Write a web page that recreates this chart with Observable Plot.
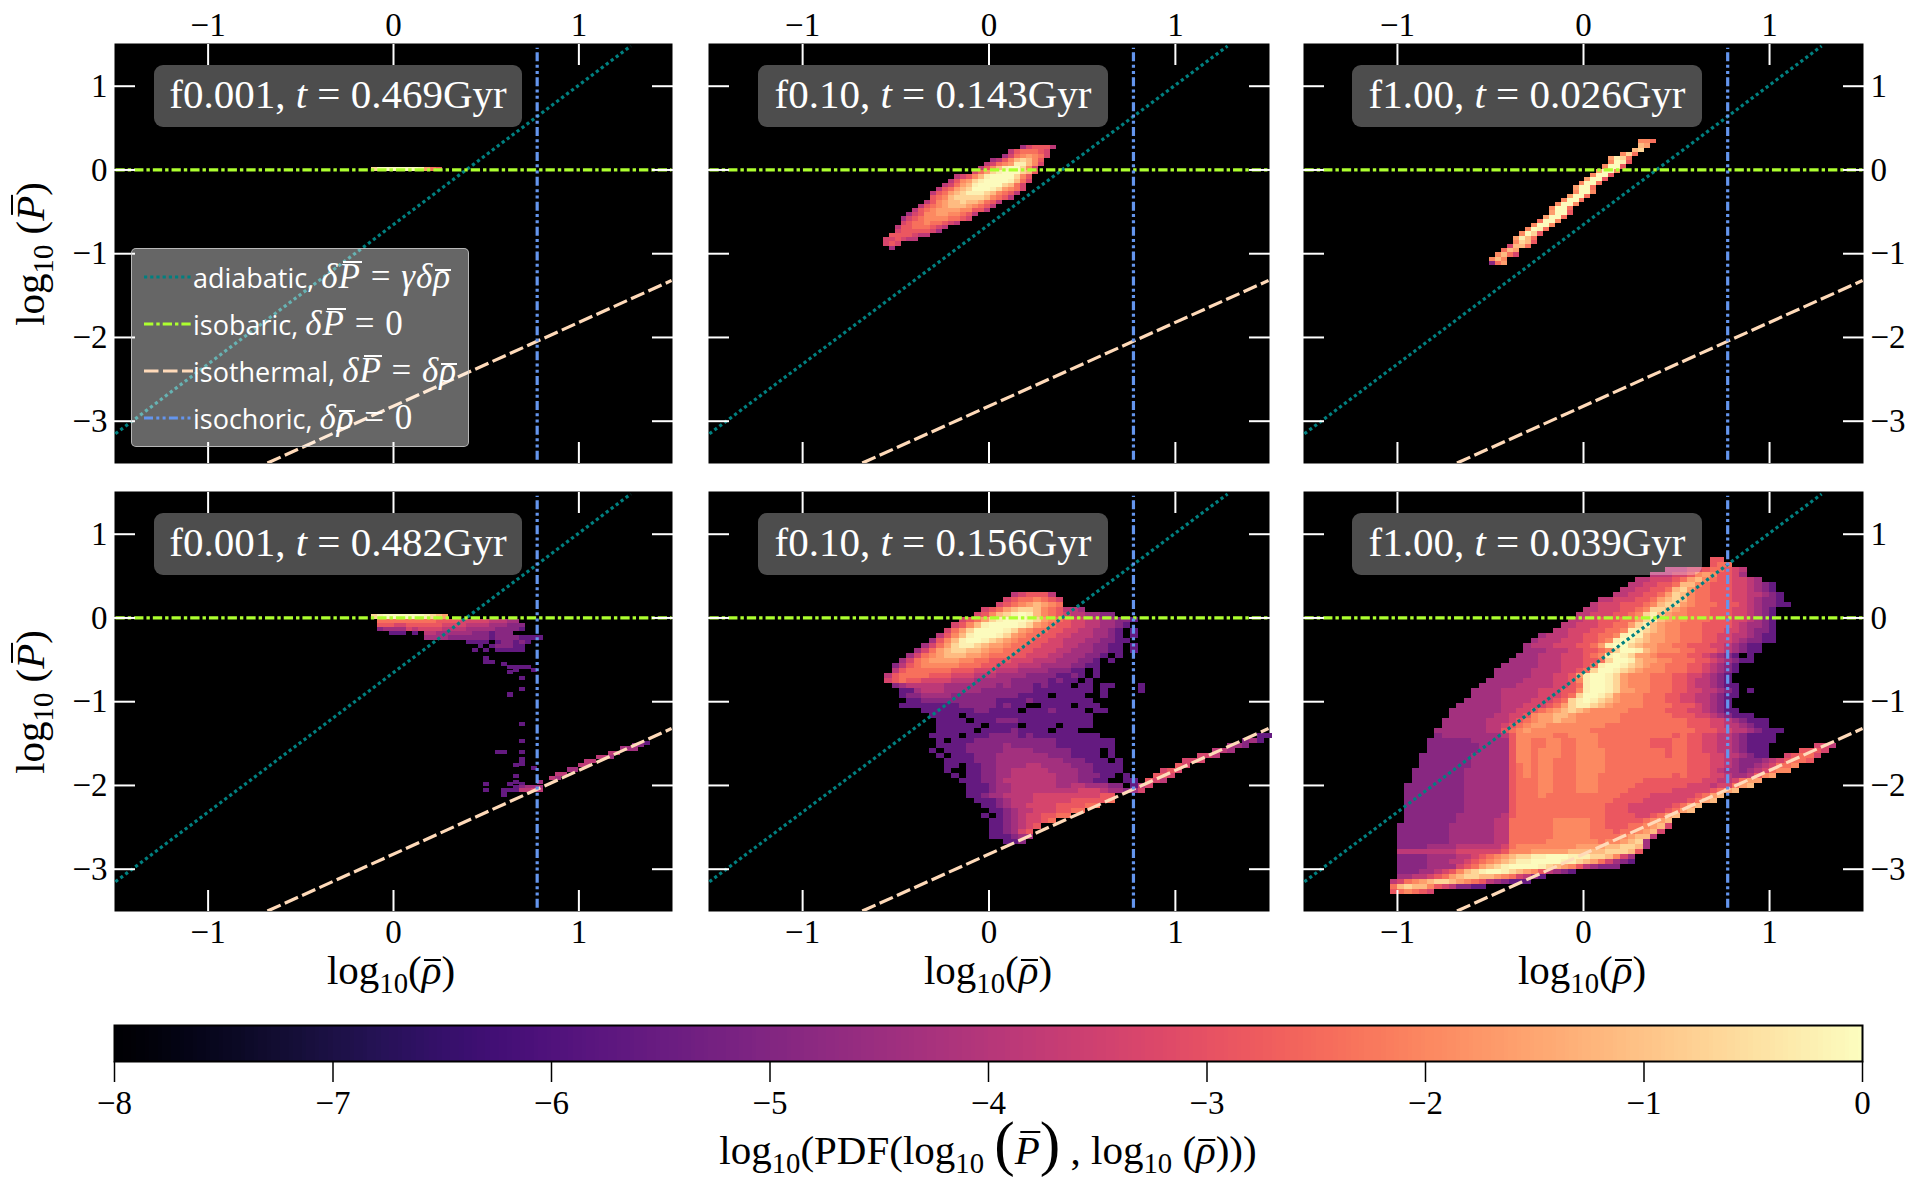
<!DOCTYPE html>
<html lang="en">
<head>
<meta charset="utf-8">
<title>Pressure-density phase diagrams</title>
<script src="https://cdn.jsdelivr.net/npm/d3@7"></script>
<script src="https://cdn.jsdelivr.net/npm/@observablehq/plot@0.6"></script>
<style>
  body { margin: 0; background: white; }
  #page { position: relative; width: 1915px; height: 1184px; overflow: hidden; font-family: 'Liberation Serif', serif; color: black; }
  #page svg { position: absolute; }
  .tag { position: absolute; height: 62px; line-height: 58px; text-align: center; white-space: nowrap; color: white; font-size: 41px;
         background: rgba(255,255,255,0.3); border-radius: 9px; }
  .lab { position: absolute; font-size: 41px; white-space: nowrap; transform: translate(-50%,-50%); }
  .lab.rot { transform: translate(-50%,-50%) rotate(-90deg); }
  sub { font-size: 70%; line-height: 0; }
  big { font-size: 150%; line-height: 0; font-weight: 100; }
  .bp, .br { position: relative; display: inline-block; }
  .bp::after, .br::after { content: ""; position: absolute; height: .045em; background: currentColor; }
  .bp::after { left: .14em; right: -.02em; top: .13em; }
  .br::after { left: .06em; right: 0; top: .32em; }
  #legend { position: absolute; left: 131px; top: 248px; width: 336px; height: 197px; background: rgba(255,255,255,0.4);
            border: 1.5px solid rgba(204,204,204,0.8); border-radius: 5px; }
  .key { position: absolute; left: 61px; white-space: nowrap; color: white; font-family: 'Open Sans', sans-serif; font-size: 27px; line-height: 30px; }
  .key span.m { font-family: 'Liberation Serif', serif; font-size: 35px; letter-spacing: 1px; }
  .key .bp::after { top: -.02em; }
  .key .br::after { top: .2em; }
</style>
</head>
<body>
<div id="page"></div>
<script>
// levels of log10(PDF), one character per histogram bin
const levelChars = "123456789abcd";
const levelValues = [-5.6, -4.9, -4.35, -3.85, -3.35, -2.85, -2.4, -2, -1.6, -1.15, -0.7, -0.25, -0.05];

const xTicks = [-1, 0, 1];
const yTicks = [-3, -2, -1, 0, 1];
const barTicks = [-8, -7, -6, -5, -4, -3, -2, -1, 0];

// reference lines, end points
const adiabaticX = [-1.5, 1.28], adiabaticY = [-3.15, 1.48];
const isobaricX = [-1.5, 1.5], isobaricY = [0, 0];
const isothermalX = [-0.68, 1.5], isothermalY = [-3.5, -1.32];
const isochoricX = [0.775, 0.775], isochoricY = [-3.46, 1.46];

const panelTags = [
  ["f0.001, ", "0.469Gyr"], ["f0.10, ", "0.143Gyr"], ["f1.00, ", "0.026Gyr"],
  ["f0.001, ", "0.482Gyr"], ["f0.10, ", "0.156Gyr"], ["f1.00, ", "0.039Gyr"]
];

// histogram runs: [top of row in log10 P, first column, levels]; "." is an empty bin
const panel1Runs = [[0.03, 30, "bdddddddc976"]];

const panel2Runs = [
  [.29,39,"356664"],[.24,37,"4677765"],[.19,36,"35789875"],[.14,34,"3468aba86"],[.09,33,"45789cca85"],
  [.04,32,"468acddb85"],[-.01,31,"579bcdddba6"],[-.06,28,"4568acddddb86"],[-.11,27,"4689bcddddca75"],
  [-.16,26,"4579acddddba75"],[-.21,25,"4679abdddcb9875"],[-.26,24,"4679abcccba8764"],[-.31,24,"678abbbbba8764"],
  [-.36,23,"4689aabaa9764"],[-.41,22,"46789aaa98764"],[-.46,21,"4678999988664"],[-.51,20,"356889988764"],
  [-.56,19,"356788887765"],[-.61,19,"5677877654"],[-.66,18,"466777654"],[-.71,18,"56666653"],
  [-.76,17,"6666544"],[-.81,16,"556544"],[-.86,16,"565"],[-.91,17,"3"]
];

const panel3Runs = [
  [.36,43,"887"],[.31,43,"a9"],[.26,42,"ab"],[.21,40,"8b7"],[.16,38,"9cb7"],[.11,38,"8dc6"],[.06,37,"8dd6"],
  [.01,36,"9dd8"],[-.04,35,"8dd6"],[-.09,34,"9dd6"],[-.14,33,"8dd7"],[-.19,32,"9dd7"],[-.24,32,"8dd8"],
  [-.29,31,"9dd7"],[-.34,30,"8dd7"],[-.39,29,"8dd8"],[-.44,28,"8dd7"],[-.49,28,"9dd6"],[-.54,27,"9dd7"],
  [-.59,26,"7dd8"],[-.64,25,"8dd8"],[-.69,24,"8dc7"],[-.74,23,"8db6"],[-.79,22,"9ca7"],[-.84,22,"8ba6"],
  [-.89,21,"5aa7"],[-.94,20,"7a9"],[-.99,19,"8a75"],[-1.04,18,"8a8"],[-1.09,18,"279"]
];

const panel4Runs = [
  [.036,30,"bcdddddddcba9"],[-.014,31,"777777777766665555544433"],[-.064,31,"6665566666655554444333222"],
  [-.114,31,"2333354555544443333322221"],[-.164,33,"111"],[-.164,37,"1"],[-.164,39,"443333332221222"],
  [-.214,39,"33332222222122221111"],[-.264,46,"1111.1"],[-.264,52,"22121"],[-.314,48,"1"],[-.314,50,"1"],[-.314,51,"22211"],
  [-.364,47,"1"],[-.364,49,"1"],[-.364,51,"1111"],[-.364,55,"1"],[-.46,49,"1"],[-.51,49,"11"],[-.533,52,"1"],
  [-.565,53,"1111"],[-.6,54,"1"],[-.6,57,"1"],[-.63,53,"1"],[-.696,55,"1"],[-.827,55,"1"],[-.895,53,"1"],
  [-1.25,55,"1"],[-1.45,55,"1"],[-1.58,51,"11"],[-1.58,55,"1"],[-1.67,55,"1"],[-1.72,55,"1"],[-1.74,54,"1"],
  [-1.77,57,"1"],[-1.865,54,"1"],[-1.94,54,"1"],[-1.965,49,"1"],[-1.965,53,"1"],[-1.965,55,"1"],
  [-2,54,"12333"],[-2.04,49,"1"],[-2.04,52,"1114454"],[-2.09,52,"1"],
  [-1.47,76,"1"],[-1.5,74,"22"],[-1.54,72,"333"],[-1.59,70,"44"],[-1.64,68,"443"],[-1.69,66,"44"],
  [-1.74,65,"44"],[-1.79,63,"33"],[-1.84,61,"44"],[-1.89,60,"43"],[-1.94,58,"3"]
];

const panel5Runs = [
  [.3,30,"456664"],[.24,29,"56778765"],[.18,28,"56789a987"],[.12,26,"5679abba876 443"],
  [.06,25,"568abcdca87654433 22"],[0,23,"5679bcdddcb98765544 33221"],[-.06,22,"568acddddcb987665544 3321"],
  [-.12,21,"579bddddcb98776655 44 33 21.1"],[-.18,20,"468acdddcb987766 55 444 33 21.1"],
  [-.24,19,"368acddcba987766 55 444 33 2211."],[-.3,18,"3579bccba9987766 555 44 33 2211.1"],
  [-.36,17,"3579abbaa98877 66 555 44 333 2211.1"],[-.42,16,"35789aaa99877766 555 44 333 221.1"],
  [-.48,15,"35789999887766 6 555 444 333 221.1"],[-.54,14,"2467888887776655 5 444 3333 2211."],
  [-.6,14,"467777776665 55 444 3333 222 11.1"],[-.66,13,"46777766 6555 444 3333 2222 11 2 1.1"],
  [-.72,13,"56766 5555 444 33333 22222 1 2 11.1"],[-.78,14,"234444 4333333 323 222 1 2 111.11.11...1"],
  [-.84,15,"11344 43333322222221 1111111.1....1"],[-.9,15,"1223333222222222 1111.1111..1"],
  [-.96,16,"112222222222 1111 2 11111111"],[-1.02,15,"11111111 22222 1 2 11..1111.111"],
  [-1.08,18,"1111111 22 1111.111 2 1111.11"],[-1.14,19,"1111.1111111111111111 1"],
  [-1.2,20,"1111.111 222 1111111111"],[-1.26,20,"111111.1111.1111.11 1 1"],[-1.32,19,".11111.1111 2 1111.111"],
  [-1.38,19,"1111.111 2222 1 2 111111111"],[-1.44,20,"1.111 22222222222 11111111"],
  [-1.5,20,"1111 22222 3 222222 11111111"],[-1.56,19,"1.111 22222 3333 22222 1111.1"],
  [-1.62,20,"1.111 222 3333333 222 1111.1"],[-1.68,20,".1111 222 333333333 222 111.1"],
  [-1.74,21,"11.11 22 3333 44 3333 222 1111"],[-1.8,21,"1..11 22 33 44444 3333 22 1111"],
  [-1.86,22,"1.11 22 33 444444 333 222 11.1"],[-1.92,23,"111 22 3 4444444 333 22 11..11"],
  [-1.98,23,".111 2 33 444444 33 44 333 22.14"],[-2.04,24,"111 2 33 444444444 555 4 33 2 3 5"],
  [-2.1,24,"11 2 33 4444 555555555 66"],[-2.16,25,"111 2 3 444 55555 66666 7"],[-2.22,26,"11 2 3 44 5555 6666 77"],
  [-2.28,27,"11 2 3 44 555 66 77"],[-2.34,26,"1.1 2 3 4 55 66 77"],[-2.4,26,".11 2 3 4 55 6 7"],
  [-2.46,27,"11 2 3 4 5 6"],[-2.52,27,"11 2 3 5 6"],[-2.58,27,"111 2 33"],[-2.64,29,"112"],
  [-1.38,63,"11"],[-1.44,61,"231"],[-1.5,59,"332"],[-1.56,57,"443"],[-1.62,55,"554"],[-1.68,53,"555"],
  [-1.74,52,"65"],[-1.8,50,"565"],[-1.86,49,"665"],[-1.92,48,"654"],[-1.98,47,"45"]
];

const panel6Runs = [
  [.72,44,"66"],[.66,44,"677"],[.6,38,"444 55 677 654"],[.54,36,"4445568986653"],[.48,34,"4455567 9a 87665543"],
  [.42,33,"4455667 aa 87666554321"],[.36,32,"4455667 ab 977666554321"],[.3,31,"4455667 9ba 8776665544321"],
  [.24,29,"4455566 79aba8 7766655 43221"],[.18,28,"4555666 78abb98 777666 5432211"],[.12,27,"4455566 78bba98 777666 554321"],
  [.06,26,"4455566 78bca988 777666 554321"],[0,25,"4455666 77 9bca988 777666 554321"],[-.06,24,"4455566 77 9bca988 77766665 43321"],
  [-.12,23,"4455566 778ccba988 777666 55 43221"],[-.18,21,"34445566 778cdca9988 77766 55 44 3211"],
  [-.24,20,"344455566 78cdcba9988777 6655 43 2211"],[-.3,19,"3444555667 9cddba9988 77666 55 43 211"],
  [-.36,19,"33344455667 8bddca98887766654 3 211"],[-.42,18,"333444555678cdcb998777 7665 4321.1"],
  [-.48,17,"3333444555667 bddca998877 7665432 11"],[-.54,16,"33333444555 67cddcba98877766543 21."],
  [-.6,15,"33333444455 67bddcba9888777665432 1"],[-.66,15,"33333444556 9cddcb9888777665543 21"],
  [-.72,14,"3333344445 568cddcb98887776654432 1"],[-.78,13,"3333344444 5567cddcb98887776654432 11"],
  [-.84,12,"33334444455566 8cddcb 998877766554 4321.1"],[-.9,12,"3333444445556 7bddcb 98887776655443 211"],
  [-.96,11,"3333344445556 7bcdcb a98887776655443 21"],[-1.02,10,"3333334445556 79bccb a98888 7777 666 54 321"],
  [-1.08,9,"333333344556 789aba 988888 77777 666 55 4 3 211"],[-1.14,9,"3333334455 6899a a9888888 7777777 666 55 4 3 2111"],
  [-1.2,8,"333333444 567899a 99888888 777777777 666 55 4 3 2111"],[-1.26,8,"33333344 56789 988888888 77777777777 666 55 44 3 211"],
  [-1.32,7,"333333344 6789 88888888 77777777777777 666 55 44 3 2111"],[-1.38,7,"2333333334 688888778888777777777767 66 55 44 3 21111"],
  [-1.44,6,"22222233333 688778877888777777766677 665544321111"],[-1.5,6,"22222223333 688778877888777777766677 6655443211 1"],
  [-1.56,6,"22222223333 688788877888877777777677 66554432111"],[-1.62,5,"222222233333 688788877888877777777677 66655443211"],
  [-1.68,5,"222222233333 688788777888877777777777 66655 432 2 234 56776"],[-1.74,5,"222222233333 678788777888877777777777 66655 4322345778"],
  [-1.8,4,"2222222333333 678788777888877777777777 66654332345 788"],[-1.86,4,"2222222333333 678788777888777777777767 66655433 4689"],
  [-1.92,4,"2222222333333 677788777888777777666666 66554 45799"],[-1.98,3,"22222222333333 677788777888777776666666 5554 5579a"],
  [-2.04,3,"22222222333333 677788777888777766666655 555679a"],[-2.1,3,"22222222333333 677787777777777666655555 5679a"],
  [-2.16,3,"22222222333333 677777777777776666555555 679a"],[-2.22,3,"22222222333333 67777777777776665555 55679a"],
  [-2.28,3,"22222222333333 67777777777776665555 5679a"],[-2.34,3,"22222223333334 67777777777776666556 79a"],
  [-2.4,3,"22222223333344 7777778888877666667 89a"],[-2.46,2,"222222233333344 777777888887766677 89a5"],
  [-2.52,2,"222222233333344 7777778888877767 789a5"],[-2.58,2,"222222233333344 77777788888777 789aa4"],
  [-2.64,2,"222222233333344 7777788888887 889ab3"],[-2.7,2,"222233334444445 78888888899 99aabba3"],
  [-2.76,2,"444444445555556 88899999aaaa abbba6"],[-2.82,2,"222233334456789abbccdddcccbba853"],
  [-2.88,2,"22223334456789abccddddccba975321"],[-2.94,2,"2222333356 79abcddddcba98643222"],
  [-3,2,"22233456 8abcddcba9864321"],[-3.06,2,"33445679abbaa9875421"],[-3.12,1,"4578 9abba98764 32111"],
  [-3.18,1,"7abaa8654221 1"],[-3.24,1,"678765"],
  [-1.5,58,"554"],[-1.56,56,"6665"],[-1.62,54,"56775"]
];

const fineBin = {x0: -1.08, dx: 0.032, dy: 0.05};
const midBin = {x0: -1.08, dx: 0.04, dy: 0.06};
const panelRuns = [panel1Runs, panel2Runs, panel3Runs, panel4Runs, panel5Runs, panel6Runs];
const panelBins = [fineBin, fineBin, fineBin, fineBin, midBin, midBin];

const magma = {type: "linear", scheme: "magma", domain: [-8, 0]};
const minus = d => String(d).replace("-", "−");

function cellsFrom(runs, bin) {
  const cells = [];
  for (const [top, col, text] of runs) {
    [...text.replace(/ /g, "")].forEach((ch, i) => {
      const k = levelChars.indexOf(ch);
      if (k < 0) return;
      cells.push({
        x1: bin.x0 + (col + i) * bin.dx,
        x2: bin.x0 + (col + i + 1) * bin.dx,
        y1: top - bin.dy,
        y2: top,
        pdf: levelValues[k]
      });
    });
  }
  return cells;
}

function pairs(xs, ys) { return xs.map((x, i) => ({x, y: ys[i]})); }

const lineStyles = [
  {xs: adiabaticX, ys: adiabaticY, stroke: "#008080", width: 3.2, dash: "3.2,3"},
  {xs: isobaricX, ys: isobaricY, stroke: "#adff2f", width: 3.2, dash: "9.3,3,3.4,3"},
  {xs: isothermalX, ys: isothermalY, stroke: "#ffdab9", width: 3.2, dash: "14.5,4.5"},
  {xs: isochoricX, ys: isochoricY, stroke: "#6495ed", width: 3.2, dash: "9,3.3,3,3.3,3,3.3"}
];

const page = document.getElementById("page");

function panel(i, left, top, w) {
  const row = Math.floor(i / 3), col = i % 3;
  const m = 70;
  const marks = [
    Plot.frame({fill: "black"}),
    Plot.rect(cellsFrom(panelRuns[i], panelBins[i]), {x1: "x1", x2: "x2", y1: "y1", y2: "y2", fill: "pdf", shapeRendering: "crispEdges"}),
    ...lineStyles.map(l => Plot.line(pairs(l.xs, l.ys), {x: "x", y: "y", stroke: l.stroke, strokeWidth: l.width, strokeDasharray: l.dash, strokeLinecap: "butt", clip: true})),
    // inward white ticks on all four sides
    ...["top", "bottom"].map(anchor => Plot.axisX({anchor, ticks: xTicks, tickSize: -21, stroke: "white", strokeWidth: 2, fill: "none", label: null})),
    ...["left", "right"].map(anchor => Plot.axisY({anchor, ticks: yTicks, tickSize: -21, stroke: "white", strokeWidth: 2, fill: "none", label: null}))
  ];
  marks.push(Plot.axisX({anchor: row === 0 ? "top" : "bottom", ticks: xTicks, tickSize: 0, tickPadding: 8, tickFormat: minus, label: null}));
  if (col === 0) marks.push(Plot.axisY({anchor: "left", ticks: yTicks, tickSize: 0, tickPadding: 7, tickFormat: minus, label: null}));
  if (col === 2) marks.push(Plot.axisY({anchor: "right", ticks: yTicks, tickSize: 0, tickPadding: 7, tickFormat: minus, label: null}));
  const chart = Plot.plot({
    width: w + 2 * m, height: 420 + 2 * m,
    marginLeft: m, marginRight: m, marginTop: m, marginBottom: m,
    x: {domain: [-1.505, 1.505]},
    y: {domain: [-3.505, 1.51]},
    color: magma,
    style: {background: "transparent", overflow: "visible", fontFamily: "'Liberation Serif', serif", fontSize: "33px"},
    marks
  });
  chart.style.left = (left - m) + "px";
  chart.style.top = (top - m) + "px";
  page.appendChild(chart);
}

const lefts = [114, 708, 1303], widths = [558, 561, 560], tops = [43, 491];
const tagLefts = [154, 758, 1352], tagWidths = [368, 350, 350];
for (let i = 0; i < 6; i++) panel(i, lefts[i % 3], tops[Math.floor(i / 3)], widths[i % 3]);

function addLabel(html, x, y, rot) {
  const d = document.createElement("div");
  d.className = rot ? "lab rot" : "lab";
  d.innerHTML = html;
  d.style.left = x + "px";
  d.style.top = y + "px";
  page.appendChild(d);
}

panelTags.forEach((t, i) => {
  const d = document.createElement("div");
  d.className = "tag";
  d.innerHTML = `${t[0]}<i>t</i> = ${t[1]}`;
  d.style.left = tagLefts[i % 3] + "px";
  d.style.width = tagWidths[i % 3] + "px";
  d.style.top = (tops[Math.floor(i / 3)] + 22) + "px";
  page.appendChild(d);
});

const barP = '<span class="bp"><i>P</i></span>';
const barR = '<span class="br"><i>ρ</i></span>';
[391, 988, 1582].forEach(x => addLabel(`log<sub>10</sub>(${barR})`, x, 970));
[254, 702].forEach(y => addLabel(`log<sub>10</sub> (${barP})`, 30, y, true));

// legend
const legendEntries = [
  {text: "adiabatic, ", math: `<i>δ</i>${barP} = <i>γδ</i>${barR}`, style: lineStyles[0]},
  {text: "isobaric, ", math: `<i>δ</i>${barP} = 0`, style: lineStyles[1]},
  {text: "isothermal, ", math: `<i>δ</i>${barP} = <i>δ</i>${barR}`, style: lineStyles[2]},
  {text: "isochoric, ", math: `<i>δ</i>${barR} = 0`, style: lineStyles[3]}
];
const legend = document.createElement("div");
legend.id = "legend";
legendEntries.forEach((e, i) => {
  const cy = 28 + i * 47;
  const k = document.createElement("div");
  k.className = "key";
  k.style.top = (cy - 15) + "px";
  k.innerHTML = `${e.text}<span class="m">${e.math}</span>`;
  legend.appendChild(k);
  const s = d3.create("svg").attr("width", 49).attr("height", 6)
    .style("left", "12px").style("top", (cy - 3) + "px");
  s.append("line").attr("x1", 0).attr("x2", 49).attr("y1", 3).attr("y2", 3)
    .attr("stroke", e.style.stroke).attr("stroke-width", 3.2).attr("stroke-dasharray", e.style.dash);
  legend.appendChild(s.node());
});
page.appendChild(legend);

// colour bar
const barSteps = d3.range(-8, 0, 0.02);
const bar = Plot.plot({
  width: 1748 + 60, height: 36 + 70,
  marginLeft: 30, marginRight: 30, marginTop: 1, marginBottom: 69,
  x: {domain: [-8, 0]},
  color: magma,
  style: {background: "transparent", overflow: "visible", fontFamily: "'Liberation Serif', serif", fontSize: "33px"},
  marks: [
    Plot.rect(barSteps, {x1: d => d, x2: d => d + 0.02, fill: d => d, shapeRendering: "crispEdges"}),
    Plot.frame({stroke: "black", strokeWidth: 2}),
    Plot.axisX({anchor: "bottom", ticks: barTicks, tickSize: 21, tickPadding: 8, strokeWidth: 1.5, tickFormat: minus, label: null})
  ]
});
bar.style.left = (114 - 30) + "px";
bar.style.top = (1025 - 1) + "px";
page.appendChild(bar);

addLabel(`log<sub>10</sub>(PDF(log<sub>10</sub> <big>(</big>${barP}<big>)</big> , log<sub>10</sub> (${barR})))`, 988, 1150);
</script>
</body>
</html>
